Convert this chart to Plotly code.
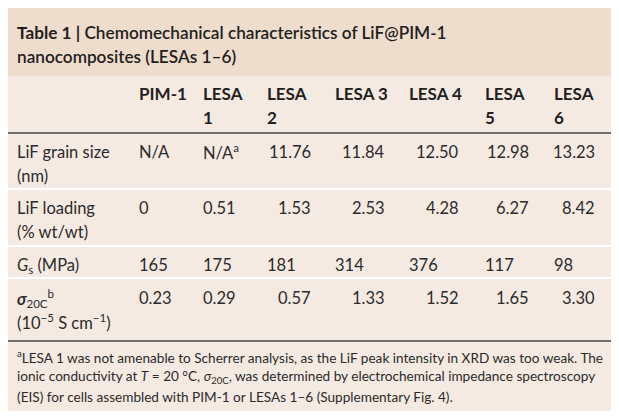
import plotly.graph_objects as go

# Table 1 data
title_lines = ["<b>Table 1 |</b> Chemomechanical characteristics of LiF@PIM-1",
               "nanocomposites (LESAs 1–6)"]
columns = ["PIM-1", "LESA<br>1", "LESA<br>2", "LESA 3", "LESA 4", "LESA<br>5", "LESA<br>6"]
row_labels = ["LiF grain size<br>(nm)",
              "LiF loading<br>(% wt/wt)",
              "<i>G</i><sub>s</sub> (MPa)",
              "<b><i>σ</i></b><sub>20C</sub><sup>b</sup><br>(10<sup>−5</sup> S cm<sup>−1</sup>)"]
grain_size = ["N/A", "N/A<sup>a</sup>", "11.76", "11.84", "12.50", "12.98", "13.23"]
loading = ["0", "0.51", "1.53", "2.53", "4.28", "6.27", "8.42"]
shear_mod = ["165", "175", "181", "314", "376", "117", "98"]
sigma_20c = ["0.23", "0.29", "0.57", "1.33", "1.52", "1.65", "3.30"]
footnote_lines = [
    "<sup>a</sup>LESA 1 was not amenable to Scherrer analysis, as the LiF peak intensity in XRD was too weak. The",
    "ionic conductivity at <i>T</i> = 20 °C, <i>σ</i><sub>20C</sub>, was determined by electrochemical impedance spectroscopy",
    "(EIS) for cells assembled with PIM-1 or LESAs 1–6 (Supplementary Fig. 4).",
]

rows = [grain_size, loading, shear_mod, sigma_20c]
right_aligned_rows = [True, True, False, True]

# layout in page pixels; the page body adds an 8 px margin, so the axes start at 8
X0, X1, Y0, Y1 = 8, 611, 8, 411
col_left = [137, 201, 265, 333, 407, 483, 552]
col_right = [None, None, 313, 387, 461, 531, 597]
row_y = [152, 208, 265, 298]
line_gap = 24
FONT = "Lato"
TXT = "#2B2B2B"
BODY = 16.5

fig = go.Figure()
fig.add_trace(go.Scatter(x=[X0, X1], y=[Y0, Y1], mode="markers", marker=dict(opacity=0),
                         hoverinfo="skip", showlegend=False))

shapes = [
    dict(type="rect", x0=7, x1=611, y0=7, y1=76, fillcolor="#EEDCCC", line_width=0, layer="below"),
    dict(type="rect", x0=7, x1=611, y0=76, y1=412, fillcolor="#F5EAE1", line_width=0, layer="below"),
    dict(type="line", x0=7, x1=611, y0=133, y1=133, line=dict(color="#6E6E6E", width=2)),
    dict(type="line", x0=7, x1=611, y0=341, y1=341, line=dict(color="#6E6E6E", width=2)),
]
for yy in [189, 246, 278]:
    shapes.append(dict(type="line", x0=7, x1=611, y0=yy, y1=yy, line=dict(color="white", width=2)))

annotations = []


def add_text(text, x, y, size, anchor="left", color=TXT, weight="normal"):
    # each <br> line placed separately so the line pitch matches
    for k, part in enumerate(text.split("<br>")):
        annotations.append(dict(
            text=part, x=x, y=y + k * line_gap, xref="x", yref="y",
            xanchor=anchor, yanchor="middle", showarrow=False,
            font=dict(family=FONT, size=size, color=color, weight=weight)))


# title
for k, t in enumerate(title_lines):
    annotations.append(dict(text=t, x=15, y=32 + k * 24, xref="x", yref="y",
                            xanchor="left", yanchor="middle", showarrow=False,
                            font=dict(family=FONT, size=17.2, color="#231F20", weight=600)))

# header
for j, c in enumerate(columns):
    add_text(c, col_left[j], 93, 17, color="#231F20", weight="bold")

# body
for i, lab in enumerate(row_labels):
    add_text(lab, 15, row_y[i], BODY)
    for j, v in enumerate(rows[i]):
        if right_aligned_rows[i] and col_right[j] is not None:
            add_text(v, col_right[j], row_y[i], BODY, anchor="right")
        else:
            add_text(v, col_left[j], row_y[i], BODY)

# footnote
for k, t in enumerate(footnote_lines):
    annotations.append(dict(text=t, x=15, y=357 + k * 20, xref="x", yref="y",
                            xanchor="left", yanchor="middle", showarrow=False,
                            font=dict(family=FONT, size=13.6, color=TXT)))

fig.update_layout(
    width=X1 - X0, height=Y1 - Y0, margin=dict(l=0, r=0, t=0, b=0),
    paper_bgcolor="white", plot_bgcolor="white",
    xaxis=dict(range=[X0, X1], visible=False, fixedrange=True),
    yaxis=dict(range=[Y1, Y0], visible=False, fixedrange=True),
    shapes=shapes, annotations=annotations,
)

fig.write_html("out.html")
